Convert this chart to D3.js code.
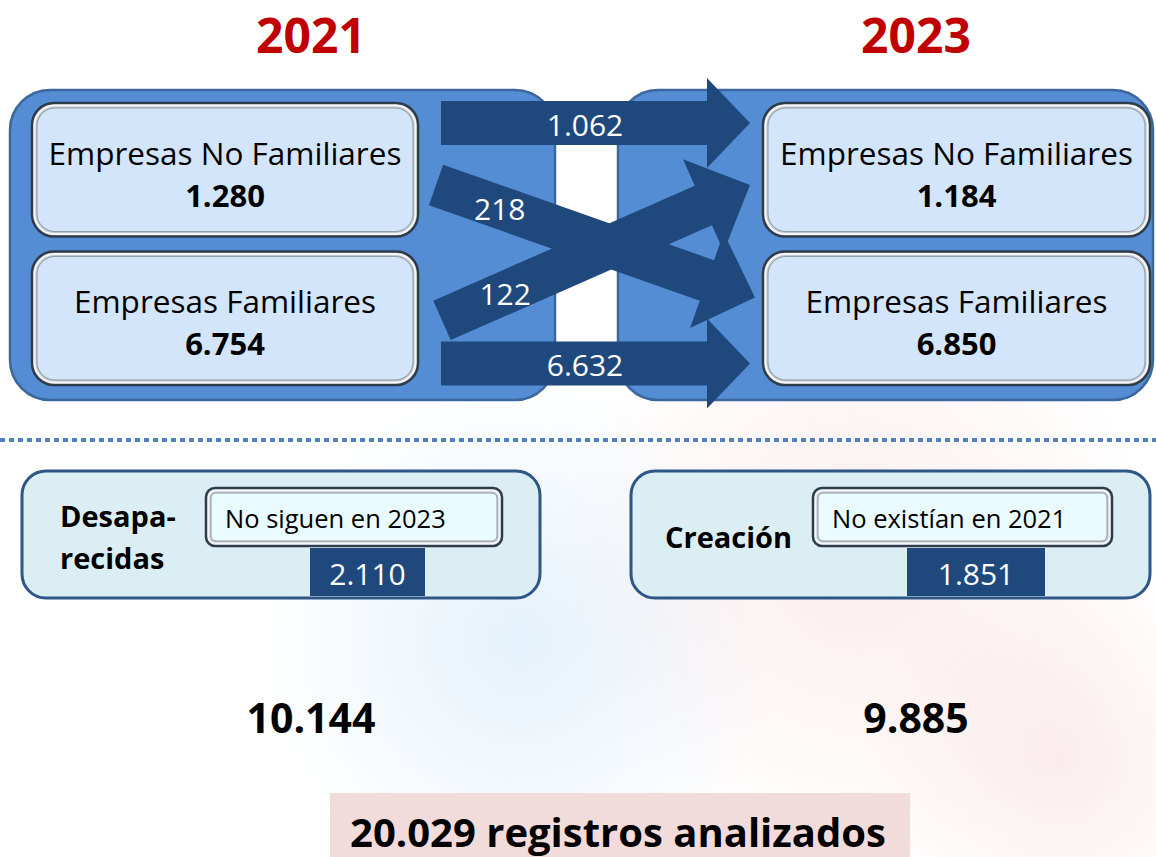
<!DOCTYPE html>
<html>
<head>
<meta charset="utf-8">
<script src="https://cdn.jsdelivr.net/npm/d3@7"></script>
<style>
  body { margin: 0; background: #fff; }
  svg text { font-family: "Open Sans", sans-serif; }
</style>
</head>
<body>
<div id="chart"></div>
<script>
// data
var years = ["2021", "2023"];
var groups = ["Empresas No Familiares", "Empresas Familiares"];
var counts2021 = [1280, 6754];
var counts2023 = [1184, 6850];
var flowFrom = [0, 0, 1, 1];
var flowTo = [0, 1, 0, 1];
var flowValues = [1062, 218, 122, 6632];
var exitTitles = [["Desapa-", "recidas"], ["Creación"]];
var exitNotes = ["No siguen en 2023", "No existían en 2021"];
var exitValues = [2110, 1851];
var totals = [10144, 9885];
var records = 20029;

var W = 1156, H = 857;
var es = d3.formatLocale({decimal: ",", thousands: ".", grouping: [3], currency: ["", " €"]});
var fmt = es.format(",d");

var svg = d3.select("#chart").append("svg")
    .attr("width", W).attr("height", H);

var defs = svg.append("defs");
function radial(id, color, op) {
  var g = defs.append("radialGradient").attr("id", id);
  g.append("stop").attr("offset", "0%").attr("stop-color", color).attr("stop-opacity", op);
  g.append("stop").attr("offset", "100%").attr("stop-color", color).attr("stop-opacity", 0);
}
radial("wmBlue", "#cfe6f7", 0.55);
radial("wmPink", "#f6d6d6", 0.45);

// faint watermark in the background
svg.append("ellipse").attr("cx", 520).attr("cy", 640).attr("rx", 260).attr("ry", 260).attr("fill", "url(#wmBlue)");
svg.append("ellipse").attr("cx", 860).attr("cy", 560).attr("rx", 300).attr("ry", 300).attr("fill", "url(#wmPink)");
svg.append("ellipse").attr("cx", 1060).attr("cy", 760).attr("rx", 200).attr("ry", 200).attr("fill", "url(#wmPink)");

// scales
var x = d3.scalePoint().domain(years).range([311, 916]);
var y = d3.scaleBand().domain(groups).range([103, 385]).paddingInner(0.1);

// year titles
svg.selectAll(".year")
  .data(years)
  .enter().append("text")
    .attr("x", function(d) { return x(d); })
    .attr("y", 34)
    .attr("text-anchor", "middle")
    .attr("dominant-baseline", "central")
    .attr("font-size", 48)
    .attr("font-weight", "bold")
    .attr("fill", "#c00000")
    .text(function(d) { return d; });

// blue panels behind each column
var panels = [{x: 10, w: 545}, {x: 618, w: 535}];
svg.selectAll(".panel")
  .data(panels)
  .enter().append("rect")
    .attr("x", function(d) { return d.x; })
    .attr("y", 90)
    .attr("width", function(d) { return d.w; })
    .attr("height", 310)
    .attr("rx", 40)
    .attr("fill", "#548dd4")
    .attr("stroke", "#3b679e")
    .attr("stroke-width", 2.5);

// bevelled light boxes
function bevelBox(g, bx, by, bw, bh, r, fill) {
  g.append("rect").attr("x", bx).attr("y", by).attr("width", bw).attr("height", bh)
    .attr("rx", r).attr("fill", "#c3c7cc").attr("stroke", "#2e3b4a").attr("stroke-width", 2.5);
  g.append("rect").attr("x", bx + 2.5).attr("y", by + 2.5).attr("width", bw - 5).attr("height", bh - 5)
    .attr("rx", r - 2).attr("fill", "none").attr("stroke", "#f4f6f8").attr("stroke-width", 2);
  g.append("rect").attr("x", bx + 5).attr("y", by + 5).attr("width", bw - 10).attr("height", bh - 10)
    .attr("rx", r - 4).attr("fill", fill).attr("stroke", "#8f99a4").attr("stroke-width", 1);
}

var cols = [
  {x0: 32, x1: 418, counts: counts2021},
  {x0: 763, x1: 1150, counts: counts2023}
];

cols.forEach(function(c) {
  groups.forEach(function(gname, i) {
    var g = svg.append("g");
    bevelBox(g, c.x0, y(gname), c.x1 - c.x0, y.bandwidth(), 22, "#d2e5fb");
    var cx = (c.x0 + c.x1) / 2;
    g.append("text")
      .attr("x", cx).attr("y", y(gname) + 49)
      .attr("text-anchor", "middle").attr("dominant-baseline", "central")
      .attr("font-size", 31.5).attr("fill", "#000")
      .text(gname);
    g.append("text")
      .attr("x", cx).attr("y", y(gname) + 92)
      .attr("text-anchor", "middle").attr("dominant-baseline", "central")
      .attr("font-size", 31).attr("font-weight", "bold").attr("fill", "#000")
      .text(fmt(c.counts[i]));
  });
});

// flow arrows: lane offsets inside the source / target band
var startLane = [20, 82, 69, 112];
var endLane = [20, 46, 82, 112];
var arrowX0 = [441, 436, 442, 441];
var arrowX1 = [750, 755, 750, 750];
var labelT = [0.466, 0.2, 0.205, 0.466];

function arrowPath(sx, sy, tx, ty, w, hw, hl) {
  var dx = tx - sx, dy = ty - sy, len = Math.sqrt(dx * dx + dy * dy);
  var ux = dx / len, uy = dy / len, nx = -uy, ny = ux;
  var bx = tx - ux * hl, by = ty - uy * hl;
  var pts = [
    [sx + nx * w / 2, sy + ny * w / 2],
    [bx + nx * w / 2, by + ny * w / 2],
    [bx + nx * hw / 2, by + ny * hw / 2],
    [tx, ty],
    [bx - nx * hw / 2, by - ny * hw / 2],
    [bx - nx * w / 2, by - ny * w / 2],
    [sx - nx * w / 2, sy - ny * w / 2]
  ];
  return "M" + pts.map(function(p) { return p[0].toFixed(1) + "," + p[1].toFixed(1); }).join("L") + "Z";
}

var flows = flowValues.map(function(v, i) {
  var sx = arrowX0[i], sy = y(groups[flowFrom[i]]) + startLane[i];
  var tx = arrowX1[i], ty = y(groups[flowTo[i]]) + endLane[i];
  var straight = flowFrom[i] === flowTo[i];
  return {value: v, sx: sx, sy: sy, tx: tx, ty: ty,
          w: straight ? 44 : 43, hw: straight ? 90 : 101, hl: straight ? 43 : 51, t: labelT[i]};
});

svg.selectAll(".flow")
  .data(flows)
  .enter().append("path")
    .attr("d", function(d) { return arrowPath(d.sx, d.sy, d.tx, d.ty, d.w, d.hw, d.hl); })
    .attr("fill", "#1f497d");

svg.selectAll(".flowLabel")
  .data(flows)
  .enter().append("text")
    .attr("x", function(d) { return d.sx + (d.tx - d.sx) * d.t; })
    .attr("y", function(d) { return d.sy + (d.ty - d.sy) * d.t + 1; })
    .attr("text-anchor", "middle")
    .attr("dominant-baseline", "central")
    .attr("font-size", 30)
    .attr("fill", "#fff")
    .text(function(d) { return fmt(d.value); });

// dotted separator
svg.append("line")
  .attr("x1", 0).attr("x2", W).attr("y1", 440).attr("y2", 440)
  .attr("stroke", "#4f81bd").attr("stroke-width", 4)
  .attr("stroke-dasharray", "5,4");

// exits / entries
var exitBoxes = [
  {x: 22, w: 518, titleX: 60, noteX: 206, noteW: 296, valX: 310, valW: 115},
  {x: 631, w: 519, titleX: 665, noteX: 813, noteW: 299, valX: 907, valW: 138}
];

exitBoxes.forEach(function(b, i) {
  var g = svg.append("g");
  g.append("rect").attr("x", b.x).attr("y", 471).attr("width", b.w).attr("height", 127)
    .attr("rx", 24).attr("fill", "#dbeef4").attr("stroke", "#2e5687").attr("stroke-width", 3);
  var lines = exitTitles[i];
  var midY = 536;
  lines.forEach(function(t, j) {
    g.append("text")
      .attr("x", b.titleX)
      .attr("y", midY + (j - (lines.length - 1) / 2) * 42)
      .attr("dominant-baseline", "central")
      .attr("font-size", 29).attr("font-weight", "bold").attr("fill", "#000")
      .text(t);
  });
  bevelBox(g, b.noteX, 488, b.noteW, 58, 9, "#e9fbfe");
  g.append("text")
    .attr("x", b.noteX + 19).attr("y", 518)
    .attr("dominant-baseline", "central")
    .attr("font-size", 25.5).attr("fill", "#000")
    .text(exitNotes[i]);
  g.append("rect").attr("x", b.valX).attr("y", 548).attr("width", b.valW).attr("height", 48)
    .attr("fill", "#1f497d");
  g.append("text")
    .attr("x", b.valX + b.valW / 2).attr("y", 573)
    .attr("text-anchor", "middle").attr("dominant-baseline", "central")
    .attr("font-size", 30).attr("fill", "#fff")
    .text(fmt(exitValues[i]));
});

// totals per year
svg.selectAll(".total")
  .data(totals)
  .enter().append("text")
    .attr("x", function(d, i) { return x(years[i]); })
    .attr("y", 717)
    .attr("text-anchor", "middle")
    .attr("dominant-baseline", "central")
    .attr("font-size", 41)
    .attr("font-weight", "bold")
    .attr("fill", "#000")
    .text(function(d) { return fmt(d); });

// records banner
svg.append("rect").attr("x", 330).attr("y", 793).attr("width", 580).attr("height", 64)
  .attr("fill", "#f2dcdb");
svg.append("text")
  .attr("x", 618).attr("y", 831)
  .attr("text-anchor", "middle").attr("dominant-baseline", "central")
  .attr("font-size", 40).attr("font-weight", "bold").attr("fill", "#000")
  .text(fmt(records) + " registros analizados");
</script>
</body>
</html>
